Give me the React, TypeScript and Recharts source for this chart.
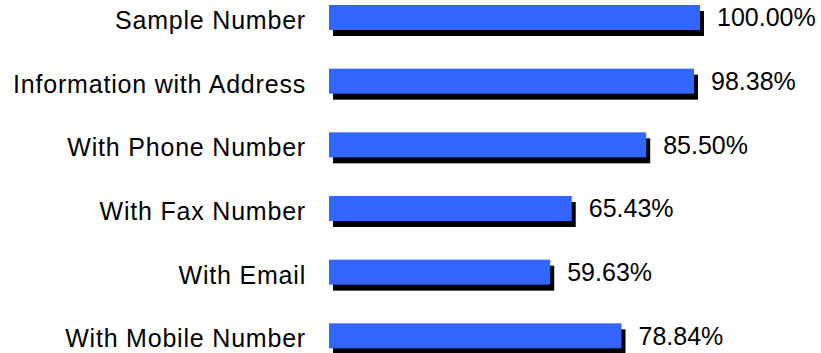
import { Bar, BarChart, LabelList, XAxis, YAxis } from "recharts";

const categories = [
  "Sample Number",
  "Information with Address",
  "With Phone Number",
  "With Fax Number",
  "With Email",
  "With Mobile Number",
];

const percentages = [100.0, 98.38, 85.5, 65.43, 59.63, 78.84];

const data = categories.map((name, i) => ({ name, value: percentages[i] }));

const FONT = "'Liberation Sans', Arial, sans-serif";

// blue bar with a hard black drop shadow down and to the right
function ShadowBar(props: any) {
  const { x, y, width, height } = props;
  return (
    <g>
      <rect x={x + 4} y={y + 6} width={width} height={height} fill="#000000" />
      <rect x={x} y={y} width={width} height={height} fill="#3366FF" />
    </g>
  );
}

function CategoryTick(props: any) {
  const { x, y, payload } = props;
  return (
    <text
      x={x}
      y={y + 2}
      textAnchor="end"
      dominantBaseline="central"
      fill="#000"
      fontSize={25}
      fontFamily={FONT}
      style={{ letterSpacing: "0.8px" }}
    >
      {payload.value}
    </text>
  );
}

export default function App() {
  return (
    <div
      style={{
        position: "absolute",
        left: 0,
        top: 0,
        width: 821,
        height: 353,
        overflow: "hidden",
        background: "#fff",
      }}
    >
      <div style={{ marginTop: -14 }}>
        <BarChart
          width={821}
          height={382}
          data={data}
          layout="vertical"
          margin={{ top: 0, right: 121, bottom: 0, left: 0 }}
          barSize={25}
        >
          <XAxis type="number" domain={[0, 100]} hide />
          <YAxis
            type="category"
            dataKey="name"
            width={329}
            axisLine={false}
            tickLine={false}
            tickSize={0}
            tickMargin={23}
            interval={0}
            tick={<CategoryTick />}
          />
          <Bar dataKey="value" shape={<ShadowBar />} isAnimationActive={false}>
            <LabelList
              dataKey="value"
              position="right"
              offset={17}
              formatter={(v: any) => `${Number(v).toFixed(2)}%`}
              style={{ fill: "#000", fontSize: 25, fontFamily: FONT }}
            />
          </Bar>
        </BarChart>
      </div>
    </div>
  );
}
